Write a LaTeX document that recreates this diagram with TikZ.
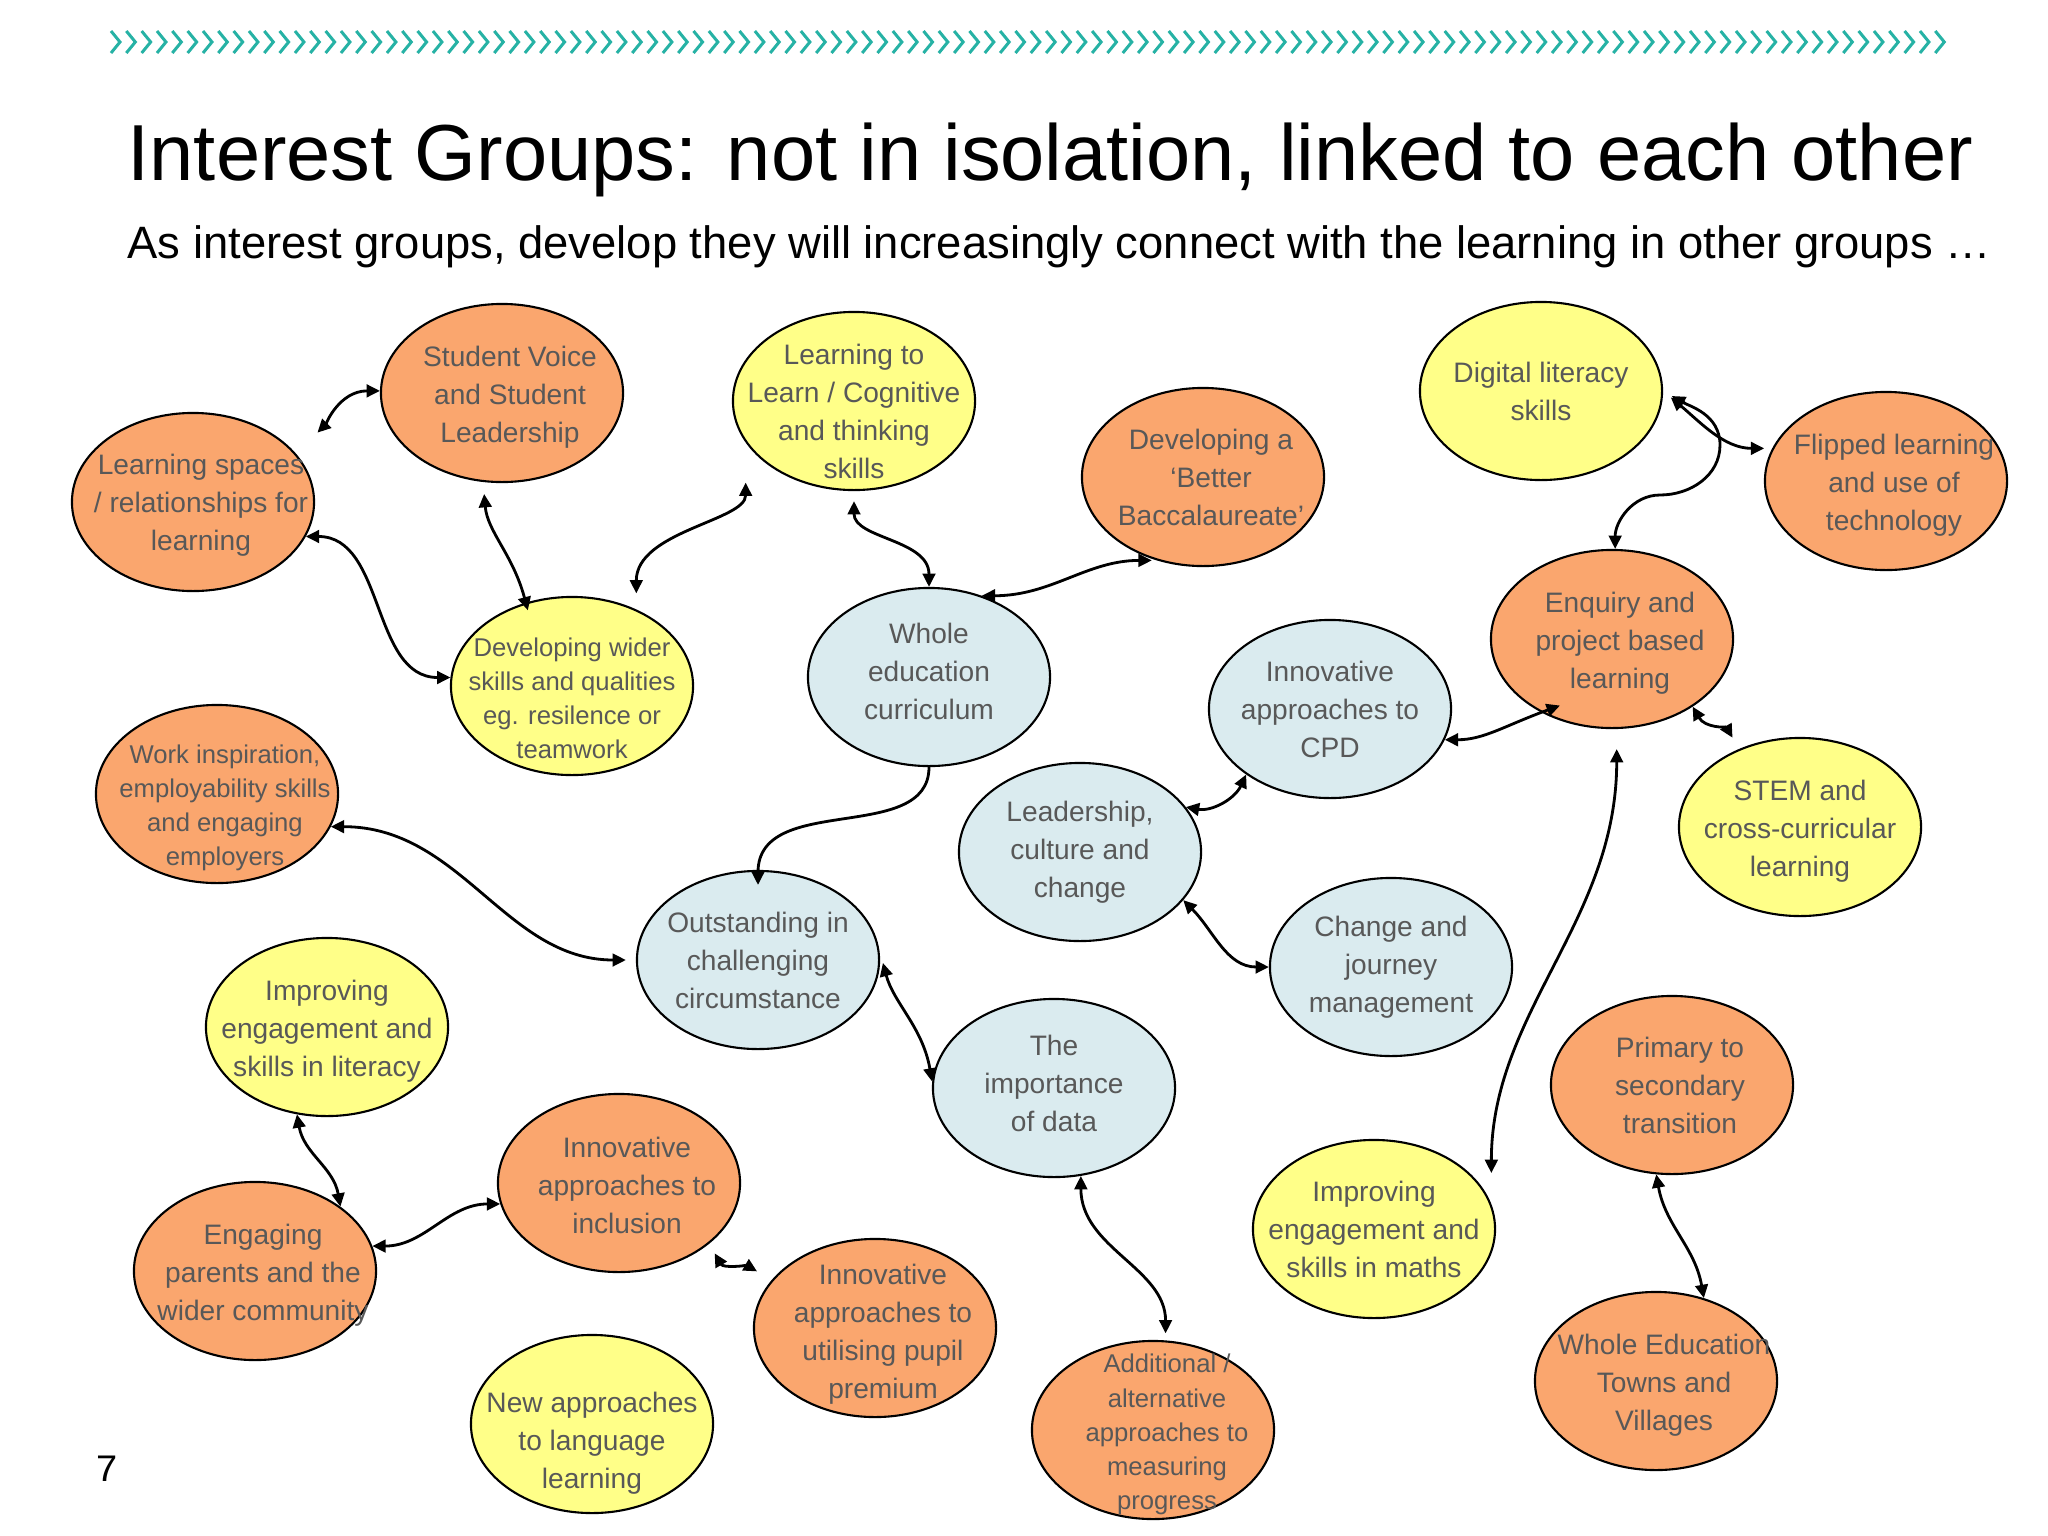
\documentclass[tikz,border=0pt]{standalone}
\usepackage{fontspec}
\setmainfont{Liberation Sans}
\setmonofont{Liberation Mono}
\usetikzlibrary{arrows.meta,shapes.geometric}

\definecolor{grporange}{RGB}{250,166,110}
\definecolor{grpyellow}{RGB}{255,255,136}
\definecolor{grpblue}{RGB}{218,235,239}
\definecolor{grpgrey}{RGB}{88,88,88}
\definecolor{chevron}{RGB}{38,178,165}

\tikzset{
  grp/.style={ellipse, draw=black, line width=0.6pt, minimum width=2.42cm, minimum height=1.78cm, inner sep=0pt},
  orangegrp/.style={grp, fill=grporange},
  yellowgrp/.style={grp, fill=grpyellow},
  bluegrp/.style={grp, fill=grpblue},
  grplabel/.style={align=center, text=grpgrey, font=\fontsize{8}{10.8}\selectfont},
  grplabelsmall/.style={grplabel, font=\fontsize{7.3}{9.7}\selectfont},
  olabel/.style={grplabel, xshift=0.8mm},
  olabelsmall/.style={grplabelsmall, xshift=0.8mm},
  link/.style={line width=0.8pt, {Triangle[length=3.8pt,width=3.6pt]}-{Triangle[length=3.8pt,width=3.6pt]}},
  linkto/.style={line width=0.8pt, -{Triangle[length=3.8pt,width=3.6pt]}},
  chevronline/.style={chevron, line width=0.85pt},
}

\begin{document}
\begin{tikzpicture}[x=0.01cm, y=0.01cm]
  \fill[white] (0,0) rectangle (2048,-1536);
  % row of chevrons
  \foreach \i in {0,...,119}
    \draw[chevronline] ({111+15.33*\i},-31) -- ++(9,-11) -- ++(-9,-11);

  \node[anchor=base west, inner sep=0pt, font=\fontsize{22.6}{27}\selectfont] (title) at (127,-180) {Interest Groups: not in isolation, linked to each other};
  \node[anchor=base west, inner sep=0pt, font=\fontsize{12.9}{15}\selectfont] (subtitle) at (127,-258) {As interest groups, develop they will increasingly connect with the learning in other groups …};

  % groups
  \node[orangegrp, label={[olabel, yshift=-0.4mm]center:{Student Voice\\and Student\\Leadership}}] (SV) at (502,-393) {};
  \node[orangegrp, label={[olabel, yshift=-0.3mm]center:{Learning spaces\\/ relationships for\\learning}}] (LS) at (193,-502) {};
  \node[yellowgrp, label={[grplabel, yshift=-1mm]center:{Learning to\\Learn / Cognitive\\and thinking\\skills}}] (LL) at (854,-401) {};
  \node[orangegrp, label={[olabel]center:{Developing a\\‘Better\\Baccalaureate’}}] (BB) at (1203,-477) {};
  \node[yellowgrp, label={[grplabel]center:{Digital literacy\\skills}}] (DL) at (1541,-391) {};
  \node[orangegrp, label={[olabel, yshift=-0.4mm]center:{Flipped learning\\and use of\\technology}}] (FL) at (1886,-481) {};
  \node[orangegrp, label={[olabel, yshift=-0.4mm]center:{Enquiry and\\project based\\learning}}] (EQ) at (1612,-639) {};
  \node[yellowgrp, label={[grplabelsmall, yshift=-1.25mm]center:{Developing wider\\skills and qualities\\eg. resilence or\\teamwork}}] (DW) at (572,-686) {};
  \node[bluegrp, label={[grplabel, yshift=0.6mm]center:{Whole\\education\\curriculum}}] (WE) at (929,-677) {};
  \node[bluegrp, label={[grplabel]center:{Innovative\\approaches to\\CPD}}] (CPD) at (1330,-709) {};
  \node[yellowgrp, label={[grplabel, yshift=-0.4mm]center:{STEM and\\cross-curricular\\learning}}] (ST) at (1800,-827) {};
  \node[orangegrp, label={[olabelsmall, yshift=-1.4mm]center:{Work inspiration,\\employability skills\\and engaging\\employers}}] (WI) at (217,-794) {};
  \node[bluegrp, label={[grplabel]center:{Leadership,\\culture and\\change}}] (LD) at (1080,-852) {};
  \node[bluegrp, label={[grplabel]center:{Outstanding in\\challenging\\circumstance}}] (OC) at (758,-960) {};
  \node[bluegrp, label={[grplabel]center:{Change and\\journey\\management}}] (CJ) at (1391,-967) {};
  \node[yellowgrp, label={[grplabel, yshift=-0.45mm]center:{Improving\\engagement and\\skills in literacy}}] (IL) at (327,-1027) {};
  \node[bluegrp, label={[grplabel, yshift=0.5mm]center:{The\\importance\\of data}}] (ID) at (1054,-1088) {};
  \node[orangegrp, label={[olabel]center:{Primary to\\secondary\\transition}}] (PS) at (1672,-1085) {};
  \node[orangegrp, label={[olabel, yshift=-0.25mm]center:{Innovative\\approaches to\\inclusion}}] (II) at (619,-1183) {};
  \node[yellowgrp, label={[grplabel]center:{Improving\\engagement and\\skills in maths}}] (IM) at (1374,-1229) {};
  \node[orangegrp, label={[olabel, yshift=-0.45mm]center:{Engaging\\parents and the\\wider community}}] (EP) at (255,-1271) {};
  \node[orangegrp, label={[olabel, yshift=-0.65mm]center:{Innovative\\approaches to\\utilising pupil\\premium}}] (PP) at (875,-1328) {};
  \node[orangegrp, label={[olabel, yshift=-0.45mm]center:{Whole Education\\Towns and\\Villages}}] (WT) at (1656,-1381) {};
  \node[orangegrp, label={[olabelsmall, xshift=0.6mm, yshift=-0.45mm]center:{Additional /\\alternative\\approaches to\\measuring\\progress}}] (AD) at (1153,-1430) {};
  \node[yellowgrp, label={[grplabel, yshift=-1.9mm]center:{New approaches\\to language\\learning}}] (NL) at (592,-1424) {};

  % links between groups
  \draw[link, shorten <=3mm] (LS.25) to[out=45,in=180] (SV.179);
  \draw[link] (LS.-17) to[out=0,in=180] (DW.176);
  \draw[link, shorten <=1.2mm, shorten >=-0.8mm] (SV.-102) to[out=-85,in=105] (DW.119);
  \draw[link, shorten <=1.6mm, shorten >=4mm] (DW.50) to[out=90,in=-90] (LL.201);
  \draw[link, shorten <=1mm] (LL.-90) to[out=-90,in=90] (WE.90);
  \draw[link, shorten >=0.5mm] (WE.57) to[out=0,in=180] (BB.241);
  \draw[linkto, shorten >=-1.5mm] (WE.south) to[out=-90,in=90] (OC.north);
  \draw[link, shorten >=1mm] (WI.-16) to[out=0,in=180] (OC.180);
  \draw[link, shorten <=1.4mm] (OC.5) to[out=-75,in=100] (ID.177);
  \draw[link] (LD.23) to[out=-10,in=-115] (CPD.218);
  \draw[link, shorten >=-2mm] (CPD.-15) to[out=0,in=200] (EQ.226);
  \draw[link] (LD.-25) to[out=-45,in=180] (CJ.180);
  \draw[link, shorten <=1mm, shorten >=0.8mm] (DL.0) to[out=-40,in=180] (FL.164);
  \draw[link, shorten <=1mm] (DL.0) to[out=-30,in=90] (1720,-445)
    to[out=-90,in=0] (1660,-495) to[out=180,in=90] (EQ.88);
  \draw[link, shorten >=1.3mm] (EQ.-40) to[out=-60,in=120] (ST.128);
  \draw[link, shorten <=2mm, shorten >=3.1mm] (EQ.-87) to[out=-90,in=90] (IM.12);
  \draw[link] (IL.251) to[out=-80,in=100] (EP.37);
  \draw[link] (EP.12) to[out=0,in=180] (II.190);
  \draw[link, shorten <=1.1mm, shorten >=1.7mm] (II.-34) to[out=-60,in=150] (PP.155);
  \draw[link, shorten >=0.7mm] (ID.-73) to[out=-90,in=90] (AD.82);
  \draw[link] (PS.260) to[out=-80,in=100] (WT.60);

  \node[font=\fontsize{11}{13}\selectfont\ttfamily] (pagenum) at (107,-1469) {7};
\end{tikzpicture}
\end{document}
